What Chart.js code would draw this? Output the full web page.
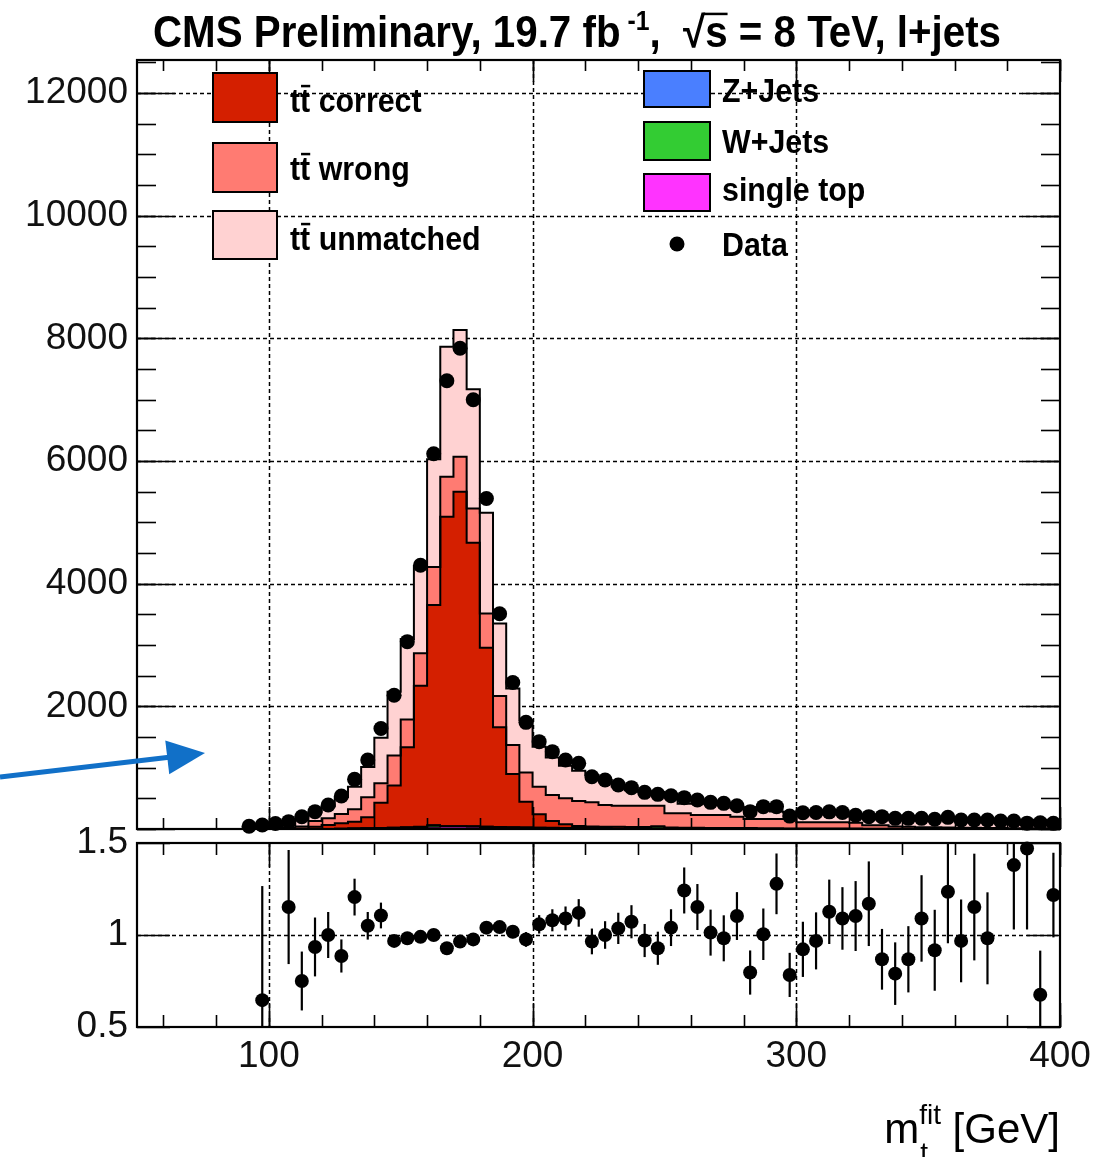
<!DOCTYPE html>
<html>
<head>
<meta charset="utf-8">
<title>m_t fit, l+jets</title>
<script src="https://cdn.jsdelivr.net/npm/chart.js@4.4.1/dist/chart.umd.min.js"></script>
<style>
  body { margin: 0; background: #fff; }
  #page { position: relative; width: 1115px; height: 1157px; overflow: hidden; background: #fff; }
  canvas { position: absolute; left: 0; }
  #chartMain { top: 0; }
  #chartRatio { top: 790px; }
</style>
</head>
<body>
<div id="page">
  <canvas id="chartRatio" width="1115" height="367"></canvas>
  <canvas id="chartMain" width="1115" height="860"></canvas>
</div>
<script>
// bin centres of the m_t^fit histogram (5 GeV bins)
const binCenters = [92.5, 97.5, 102.5, 107.5, 112.5, 117.5, 122.5, 127.5, 132.5, 137.5,
  142.5, 147.5, 152.5, 157.5, 162.5, 167.5, 172.5, 177.5, 182.5, 187.5,
  192.5, 197.5, 202.5, 207.5, 212.5, 217.5, 222.5, 227.5, 232.5, 237.5,
  242.5, 247.5, 252.5, 257.5, 262.5, 267.5, 272.5, 277.5, 282.5, 287.5,
  292.5, 297.5, 302.5, 307.5, 312.5, 317.5, 322.5, 327.5, 332.5, 337.5,
  342.5, 347.5, 352.5, 357.5, 362.5, 367.5, 372.5, 377.5, 382.5, 387.5,
  392.5, 397.5];
const binWidth = 5;

const dataCounts = [45, 65, 90, 120, 200, 283, 391, 538, 810, 1125,
  1640, 2180, 3055, 4300, 6120, 7310, 7840, 7000, 5390, 3510,
  2390, 1739, 1424, 1261, 1125, 1071, 853, 799, 717, 674,
  598, 565, 543, 511, 473, 435, 418, 380, 283, 364,
  364, 210, 265, 270, 280, 270, 225, 201, 201, 174,
  174, 174, 158, 190, 147, 147, 147, 130, 130, 95,
  100, 92];

const singleTop = [0, 0, 0, 0, 0, 2, 4, 6, 9, 11,
  14, 17, 22, 28, 32, 35, 35, 33, 30, 27,
  24, 22, 20, 18, 17, 15, 14, 13, 5, 5,
  10, 4, 4, 3, 3, 3, 3, 3, 2, 2,
  2, 2, 2, 1, 1, 1, 1, 1, 1, 1,
  1, 1, 1, 1, 1, 1, 1, 1, 1, 1,
  1, 1];
const wJets = [0, 0, 0, 0, 0, 0, 1, 2, 2, 3,
  4, 6, 8, 10, 30, 12, 12, 11, 10, 8,
  6, 5, 5, 4, 4, 4, 3, 3, 2, 2,
  3, 32, 1, 1, 1, 1, 1, 1, 1, 1,
  1, 1, 1, 1, 1, 1, 1, 1, 0, 0,
  0, 0, 0, 0, 0, 0, 0, 0, 0, 0,
  0, 0];
const zJets = [0, 0, 0, 0, 0, 0, 0, 0, 1, 1,
  2, 2, 2, 3, 3, 3, 3, 3, 2, 2,
  2, 2, 1, 1, 1, 1, 1, 1, 1, 1,
  1, 1, 1, 1, 1, 0, 0, 0, 0, 0,
  0, 0, 0, 0, 0, 0, 0, 0, 0, 0,
  0, 0, 0, 0, 0, 0, 0, 0, 0, 0,
  0, 0];
const ttCorrect = [0, 0, 0, 5, 10, 36, 60, 84, 108, 175,
  410, 685, 1300, 2296, 3587, 5043, 5450, 4622, 2915, 1621,
  865, 417, 213, 107, 54, 29, 22, 21, 27, 25,
  18, 8, 19, 17, 15, 13, 14, 12, 12, 9,
  9, 7, 7, 7, 6, 6, 5, 4, 5, 4,
  4, 3, 3, 3, 2, 2, 2, 2, 1, 1,
  1, 1];
const ttWrong = [0, 2, 5, 10, 30, 92, 109, 153, 201, 326,
  315, 490, 453, 527, 620, 652, 571, 559, 559, 510,
  473, 474, 451, 424, 424, 407, 395, 353, 345, 347,
  348, 335, 230, 233, 208, 210, 210, 185, 148, 151,
  151, 153, 100, 101, 102, 102, 93, 54, 54, 35,
  30, 26, 24, 21, 19, 17, 15, 13, 12, 10,
  10, 8];
const ttUnmatched = [8, 13, 25, 45, 110, 140, 196, 275, 369, 494,
  744, 1040, 1315, 1416, 1758, 2119, 2065, 1941, 1642, 1185,
  920, 855, 650, 611, 530, 494, 445, 409, 315, 250,
  235, 225, 265, 157, 182, 200, 197, 144, 192, 199,
  122, 105, 180, 170, 140, 140, 105, 112, 170, 180,
  165, 130, 148, 133, 133, 111, 135, 117, 82, 53,
  140, 68];

// data / MC
const ratioVals = [null, 0.646, null, 1.152, 0.75, 0.935, 1.0, 0.886, 1.206, 1.05,
  1.106, 0.968, 0.982, 0.99, 1.0, 0.928, 0.964, 0.976, 1.04, 1.043,
  1.018, 0.976, 1.058, 1.08, 1.09, 1.12, 0.965, 1.0, 1.036, 1.072,
  0.97, 0.928, 1.04, 1.242, 1.152, 1.013, 0.982, 1.103, 0.796, 1.004,
  1.278, 0.783, 0.922, 0.968, 1.126, 1.09, 1.103, 1.17, 0.868, 0.79,
  0.868, 1.09, 0.917, 1.235, 0.968, 1.152, 0.982, null, 1.38, 1.47,
  0.675, 1.217];
const ratioErr = [0, 0.62, 0, 0.31, 0.16, 0.16, 0.125, 0.09, 0.10, 0.075,
  0.07, 0.03, 0.025, 0.02, 0.02, 0.02, 0.02, 0.02, 0.025, 0.03,
  0.035, 0.04, 0.05, 0.06, 0.065, 0.075, 0.07, 0.075, 0.085, 0.09,
  0.09, 0.09, 0.1, 0.125, 0.125, 0.125, 0.125, 0.13, 0.12, 0.14,
  0.165, 0.12, 0.15, 0.155, 0.175, 0.17, 0.19, 0.23, 0.165, 0.17,
  0.18, 0.235, 0.22, 0.28, 0.225, 0.29, 0.25, 0, 0.35, 0.44,
  0.24, 0.23];

const mainYTicks = [2000, 4000, 6000, 8000, 10000, 12000];
const ratioYTicks = [0.5, 1, 1.5];
const massTicks = [100, 200, 300, 400];

const FONT = '"Liberation Sans", Arial, Helvetica, sans-serif';

// stack from the bottom up
const stackParts = [singleTop, wJets, zJets, ttCorrect, ttWrong, ttUnmatched];
const stackFill = ['#ff33ff', '#33cc33', '#4a7fff', '#d41f00', '#ff7b72', '#ffd2d2'];
const stackLineW = [1.5, 1.5, 1.5, 2, 2, 2];

function cumulative(parts) {
  let run = binCenters.map(() => 0);
  return parts.map(arr => (run = run.map((v, i) => v + arr[i])));
}

// points at the bin low edges, drawn as a step line
function stepPoints(vals) {
  const half = binWidth / 2;
  const last = binCenters.length - 1;
  const pts = [{ x: binCenters[0] - half, y: 0 }];
  binCenters.forEach((c, i) => pts.push({ x: c - half, y: vals[i] }));
  pts.push({ x: binCenters[last] + half, y: vals[last] });
  pts.push({ x: binCenters[last] + half, y: 0 });
  return pts;
}

function stepsBetween(min, max, step) {
  const out = [];
  for (let v = Math.ceil(min / step) * step; v <= max + 1e-9; v += step) out.push(v);
  return out;
}

function seg(ctx, x1, y1, x2, y2) {
  ctx.beginPath(); ctx.moveTo(x1, y1); ctx.lineTo(x2, y2); ctx.stroke();
}

// ROOT-like pad: dashed grid under the data, frame and inward ticks on top
function padDecor(cfg) {
  return {
    id: 'padDecor',
    beforeDraw(chart) {
      const { ctx, chartArea: a, scales: { x, y } } = chart;
      ctx.save();
      ctx.strokeStyle = '#000';
      ctx.lineWidth = 1.5;
      ctx.setLineDash([4, 3]);
      cfg.gridX.forEach(v => {
        const px = Math.round(x.getPixelForValue(v)) + 0.5;
        seg(ctx, px, a.top, px, a.bottom);
      });
      cfg.gridY.forEach(v => {
        const py = Math.round(y.getPixelForValue(v)) + 0.5;
        seg(ctx, a.left, py, a.right, py);
      });
      ctx.restore();
    },
    beforeDatasetsDraw(chart) {
      if (!cfg.errors) return;
      const { ctx, chartArea: a, scales: { x, y } } = chart;
      ctx.save();
      ctx.beginPath();
      ctx.rect(a.left, a.top, a.right - a.left, a.bottom - a.top);
      ctx.clip();
      ctx.strokeStyle = '#000';
      ctx.lineWidth = 2.2;
      cfg.errors.vals.forEach((r, i) => {
        if (r === null) return;
        const e = cfg.errors.errs[i];
        const px = x.getPixelForValue(binCenters[i]);
        seg(ctx, px, y.getPixelForValue(r - e), px, y.getPixelForValue(r + e));
      });
      ctx.restore();
    },
    afterDatasetsDraw(chart) {
      const { ctx, chartArea: a, scales: { x, y } } = chart;
      ctx.save();
      ctx.strokeStyle = '#000';
      ctx.lineWidth = 1.6;
      const xs = (vals, len) => vals.forEach(v => {
        const px = Math.round(x.getPixelForValue(v)) + 0.5;
        seg(ctx, px, a.bottom, px, a.bottom - len);
        seg(ctx, px, a.top, px, a.top + len);
      });
      const ys = (vals, len) => vals.forEach(v => {
        const py = Math.round(y.getPixelForValue(v)) + 0.5;
        seg(ctx, a.left, py, a.left + len, py);
        seg(ctx, a.right, py, a.right - len, py);
      });
      xs(stepsBetween(x.min, x.max, cfg.xMinorStep), cfg.xMinorLen);
      xs(massTicks, cfg.xMajorLen);
      if (cfg.yMinorStep) ys(stepsBetween(y.min, y.max, cfg.yMinorStep), cfg.yMinorLen);
      ys(cfg.yMajor, cfg.yMajorLen);
      ctx.lineWidth = 2.2;
      ctx.strokeRect(a.left, a.top, a.right - a.left, a.bottom - a.top);
      ctx.restore();
    }
  };
}

// narrow-ish bold text, as in the ROOT legend
function legendText(ctx, txt, x, yMid, size, bar) {
  ctx.save();
  ctx.font = 'bold ' + size + 'px ' + FONT;
  ctx.textBaseline = 'alphabetic';
  ctx.translate(x, yMid + size * 0.36);
  ctx.scale(0.92, 1);
  if (bar) {
    const w1 = ctx.measureText('t').width;
    const w2 = ctx.measureText('tt').width;
    ctx.fillText('tt', 0, 0);
    ctx.fillRect(w1 + 1, -size * 0.82, w2 - w1 - 1, 2.5);
    ctx.fillText(' ' + txt, w2, 0);
  } else {
    ctx.fillText(txt, 0, 0);
  }
  ctx.restore();
}

const mainOverlay = {
  id: 'mainOverlay',
  afterDraw(chart) {
    const ctx = chart.ctx;
    ctx.save();
    ctx.fillStyle = '#000';

    // title
    const big = 44, small = 27;
    const parts = [
      { t: 'CMS Preliminary, 19.7 fb', s: big, dy: 0 },
      { t: ' -1', s: small, dy: -17 },
      { t: ',  ', s: big, dy: 0 },
      { t: '\u221A', s: big, dy: 0 },
      { t: 's', s: big, dy: 0, bar: true },
      { t: ' = 8 TeV, l+jets', s: big, dy: 0 }
    ];
    let total = 0;
    parts.forEach(p => { ctx.font = 'bold ' + p.s + 'px ' + FONT; p.w = ctx.measureText(p.t).width; total += p.w; });
    const sx = (1001 - 153) / total;
    ctx.translate(153, 47);
    ctx.scale(sx, 1);
    ctx.textBaseline = 'alphabetic';
    let cx = 0;
    parts.forEach(p => {
      ctx.font = 'bold ' + p.s + 'px ' + FONT;
      ctx.fillText(p.t, cx, p.dy);
      if (p.bar) ctx.fillRect(cx - 2, -big * 0.78, p.w + 2, 2.5);
      cx += p.w;
    });
    ctx.setTransform(1, 0, 0, 1, 0, 0);

    // legend
    ctx.lineWidth = 2;
    ctx.strokeStyle = '#000';
    const boxes = [
      { c: stackFill[3], r: [213, 73, 64, 49] },
      { c: stackFill[4], r: [213, 143, 64, 49] },
      { c: stackFill[5], r: [213, 211, 64, 48] },
      { c: stackFill[2], r: [644, 71, 66, 36] },
      { c: stackFill[1], r: [644, 122, 66, 38] },
      { c: stackFill[0], r: [644, 174, 66, 37] }
    ];
    boxes.forEach(b => {
      ctx.fillStyle = b.c;
      ctx.fillRect(b.r[0], b.r[1], b.r[2], b.r[3]);
      ctx.strokeRect(b.r[0], b.r[1], b.r[2], b.r[3]);
    });
    ctx.fillStyle = '#000';
    const ls = 33;
    legendText(ctx, 'correct', 290, 100, ls, true);
    legendText(ctx, 'wrong', 290, 168, ls, true);
    legendText(ctx, 'unmatched', 290, 238, ls, true);
    legendText(ctx, 'Z+Jets', 722, 90, ls);
    legendText(ctx, 'W+Jets', 722, 141, ls);
    legendText(ctx, 'single top', 722, 189, ls);
    legendText(ctx, 'Data', 722, 244, ls);
    ctx.beginPath();
    ctx.arc(677, 244, 7.5, 0, Math.PI * 2);
    ctx.fill();

    // blue pointer arrow
    const tip = [205, 753], from = [0, 777];
    const dx = tip[0] - from[0], dy = tip[1] - from[1];
    const L = Math.hypot(dx, dy), ux = dx / L, uy = dy / L;
    const bx = tip[0] - 38 * ux, by = tip[1] - 38 * uy;
    ctx.strokeStyle = '#1170c8';
    ctx.fillStyle = '#1170c8';
    ctx.lineWidth = 5;
    seg(ctx, from[0], from[1], bx + 4 * ux, by + 4 * uy);
    ctx.beginPath();
    ctx.moveTo(tip[0], tip[1]);
    ctx.lineTo(bx - 17 * uy, by + 17 * ux);
    ctx.lineTo(bx + 17 * uy, by - 17 * ux);
    ctx.closePath();
    ctx.fill();
    ctx.restore();
  }
};

const ratioOverlay = {
  id: 'ratioOverlay',
  afterDraw(chart) {
    const ctx = chart.ctx;
    ctx.save();
    ctx.fillStyle = '#000';
    ctx.textBaseline = 'alphabetic';
    const big = 42, small = 28;
    ctx.font = big + 'px ' + FONT;
    const wm = ctx.measureText('m').width;
    const wr = ctx.measureText(' [GeV]').width;
    ctx.font = small + 'px ' + FONT;
    const ws = ctx.measureText('fit').width;
    const right = 1060, base = 1143 - 790;
    const x0 = right - wr - ws - wm;
    ctx.font = big + 'px ' + FONT;
    ctx.fillText('m', x0, base);
    ctx.fillText(' [GeV]', x0 + wm + ws, base);
    ctx.font = small + 'px ' + FONT;
    ctx.fillText('fit', x0 + wm, base - 19);
    ctx.fillText('t', x0 + wm + 1, base + 19);
    ctx.restore();
  }
};

const cum = cumulative(stackParts);
const histSets = cum.map((vals, k) => ({
  type: 'line',
  data: stepPoints(vals),
  stepped: true,
  fill: 'origin',
  backgroundColor: stackFill[k],
  borderColor: '#000',
  borderWidth: stackLineW[k],
  borderJoinStyle: 'miter',
  pointRadius: 0,
  tension: 0
}));

const tickFont = { family: FONT, size: 37 };

new Chart(document.getElementById('chartMain'), {
  type: 'line',
  data: {
    datasets: [{
      type: 'scatter',
      data: binCenters.map((c, i) => ({ x: c, y: dataCounts[i] })),
      pointRadius: 7.5,
      pointBackgroundColor: '#000',
      pointBorderWidth: 0,
      clip: false
    }].concat(histSets)
  },
  options: {
    responsive: false,
    animation: false,
    devicePixelRatio: 1,
    events: [],
    layout: { padding: { left: 0, top: 60, right: 55, bottom: 31 } },
    plugins: {
      legend: { display: false },
      tooltip: { enabled: false },
      filler: { drawTime: 'beforeDatasetsDraw' }
    },
    scales: {
      x: { type: 'linear', min: 50, max: 400, display: false },
      y: {
        type: 'linear', min: 0, max: 12540,
        grid: { display: false, drawTicks: false },
        border: { display: false },
        ticks: { color: '#111', font: tickFont, padding: 9, callback: v => String(v) },
        afterBuildTicks: s => { s.ticks = mainYTicks.map(v => ({ value: v })); },
        afterFit: s => { s.width = 137; s.paddingTop = 0; s.paddingBottom = 0; }
      }
    }
  },
  plugins: [padDecor({
    gridX: [100, 200, 300], gridY: mainYTicks,
    xMinorStep: 20, xMinorLen: 11, xMajorLen: 22,
    yMajor: [0].concat(mainYTicks), yMajorLen: 38, yMinorStep: 500, yMinorLen: 19
  }), mainOverlay]
});

new Chart(document.getElementById('chartRatio'), {
  type: 'scatter',
  data: {
    datasets: [{
      data: binCenters.map((c, i) => ({ x: c, y: ratioVals[i] })),
      pointRadius: 7,
      pointBackgroundColor: '#000',
      pointBorderWidth: 0,
      clip: false
    }]
  },
  options: {
    responsive: false,
    animation: false,
    devicePixelRatio: 1,
    events: [],
    layout: { padding: { left: 0, top: 53, right: 55, bottom: 0 } },
    plugins: { legend: { display: false }, tooltip: { enabled: false } },
    scales: {
      x: {
        type: 'linear', min: 50, max: 400,
        grid: { display: false, drawTicks: false },
        border: { display: false },
        ticks: { color: '#111', font: tickFont, padding: 8, maxRotation: 0, autoSkip: false, callback: v => String(v) },
        afterBuildTicks: s => { s.ticks = massTicks.map(v => ({ value: v })); },
        afterFit: s => { s.height = 130; s.paddingLeft = 0; s.paddingRight = 0; }
      },
      y: {
        type: 'linear', min: 0.5, max: 1.5,
        grid: { display: false, drawTicks: false },
        border: { display: false },
        ticks: { color: '#111', font: tickFont, padding: 9, callback: v => String(v) },
        afterBuildTicks: s => { s.ticks = ratioYTicks.map(v => ({ value: v })); },
        afterFit: s => { s.width = 137; s.paddingTop = 0; s.paddingBottom = 0; }
      }
    }
  },
  plugins: [padDecor({
    gridX: [100, 200, 300], gridY: [1],
    xMinorStep: 20, xMinorLen: 12, xMajorLen: 24,
    yMajor: ratioYTicks, yMajorLen: 33,
    errors: { vals: ratioVals, errs: ratioErr }
  }), ratioOverlay]
});
</script>
</body>
</html>
